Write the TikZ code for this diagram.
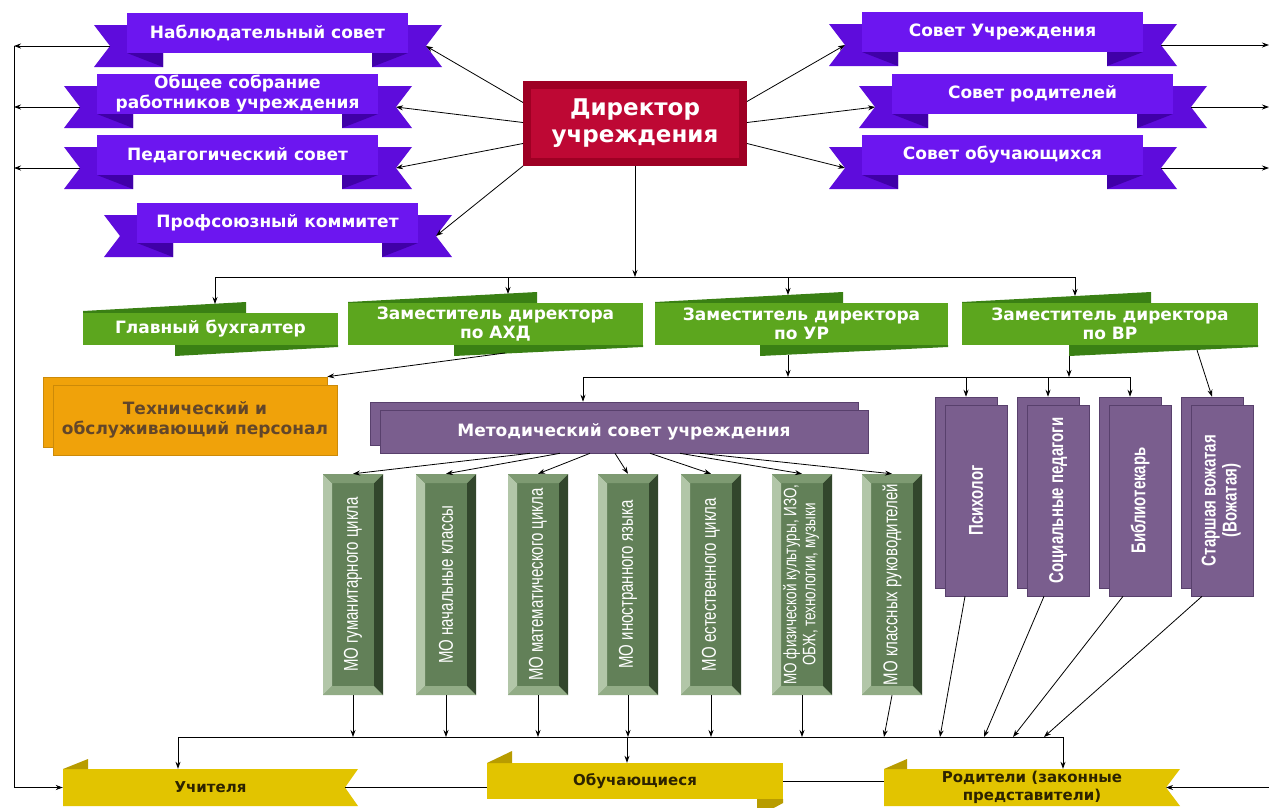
\documentclass[tikz,border=0pt]{standalone}
\usepackage{fontspec}
\usepackage{graphicx}
\setmainfont{DejaVu Sans}
\newfontfamily\narrowfont[FakeStretch=0.75]{Liberation Sans}
\usetikzlibrary{arrows.meta}

\definecolor{ribmain}{RGB}{108,22,240}
\definecolor{ribtail}{RGB}{94,12,220}
\definecolor{ribfold}{RGB}{64,0,168}
\definecolor{dirout}{RGB}{158,0,36}
\definecolor{dirin}{RGB}{190,8,52}
\definecolor{grmain}{RGB}{92,166,30}
\definecolor{grdark}{RGB}{58,128,20}
\definecolor{orfill}{RGB}{240,162,10}
\definecolor{ortext}{RGB}{98,70,42}
\definecolor{pufill}{RGB}{122,94,142}
\definecolor{pudraw}{RGB}{88,64,108}
\definecolor{moface}{RGB}{98,128,88}
\definecolor{molight}{RGB}{178,198,168}
\definecolor{modark}{RGB}{50,70,44}
\definecolor{motop}{RGB}{126,154,114}
\definecolor{mobot}{RGB}{146,172,134}
\definecolor{yefill}{RGB}{226,196,0}
\definecolor{yefold}{RGB}{184,156,0}
\definecolor{yetext}{RGB}{45,35,0}

\begin{document}
\begin{tikzpicture}[x=1pt, y=-1pt, >={Stealth[length=7pt,width=5pt]},
    wire/.style={black, line width=0.8pt},
    wirearrow/.style={wire, ->},
    ribbon/.style={fill=ribmain, text=white, font=\bfseries\fontsize{17}{20}\selectfont,
      minimum width=281, minimum height=40, inner sep=0, align=center},
    dirbox/.style={fill=dirin, draw=dirout, line width=8pt, minimum width=216, minimum height=77,
      text=white, font=\bfseries\fontsize{23}{27}\selectfont, align=center},
    gbox/.style={fill=grmain, text=white, font=\bfseries\fontsize{17}{19}\selectfont,
      minimum height=42, inner sep=0, align=center},
    orbox/.style={fill=orfill, draw=orfill!85!black, line width=0.6pt, minimum width=284,
      minimum height=70, inner sep=0, align=center},
    pubox/.style={fill=pufill, draw=pudraw, line width=0.6pt, inner sep=0, text=white, align=center},
    pucol/.style={pubox, minimum width=62, minimum height=191,
      font=\narrowfont\bfseries\fontsize{20}{21}\selectfont},
    yeband/.style={inner sep=0, text=yetext, font=\bfseries\fontsize{15}{18}\selectfont, align=center},
    mocol/.style={fill=moface, minimum width=60, minimum height=221, inner sep=0, text=white,
      font=\narrowfont\fontsize{20}{20}\selectfont,
      path picture={
        \fill[molight] (path picture bounding box.north west) -- (path picture bounding box.south west)
          -- ([xshift=9pt,yshift=9pt]path picture bounding box.south west)
          -- ([xshift=9pt,yshift=-9pt]path picture bounding box.north west) -- cycle;
        \fill[modark] (path picture bounding box.north east) -- (path picture bounding box.south east)
          -- ([xshift=-9pt,yshift=9pt]path picture bounding box.south east)
          -- ([xshift=-9pt,yshift=-9pt]path picture bounding box.north east) -- cycle;
        \fill[motop] (path picture bounding box.north west) -- (path picture bounding box.north east)
          -- ([xshift=-9pt,yshift=-9pt]path picture bounding box.north east)
          -- ([xshift=9pt,yshift=-9pt]path picture bounding box.north west) -- cycle;
        \fill[mobot] (path picture bounding box.south west) -- (path picture bounding box.south east)
          -- ([xshift=-9pt,yshift=9pt]path picture bounding box.south east)
          -- ([xshift=9pt,yshift=9pt]path picture bounding box.south west) -- cycle;
      }}]

    % Page frame
    \useasboundingbox (0,0) rectangle (1269,807);
    \fill[white] (0,0) rectangle (1269,807);
    \coordinate (lx) at (14,0);
    \coordinate (rx) at (1269,0);

    % Councils on the left (tails, folds, then the band)
    \fill[ribtail] (163,25) -- (94,25) -- (110,46) -- (94,67) -- (163,67) -- cycle
      (372,25) -- (442,25) -- (426,46) -- (442,67) -- (372,67) -- cycle;
    \fill[ribfold] (127,53) -- (163,53) -- (163,67) -- cycle (408,53) -- (372,53) -- (372,67) -- cycle;
    \node[ribbon] (nabl) at (267.5,33) {Наблюдательный совет};
    \coordinate (nabl-l) at (110,46);
    \coordinate (nabl-r) at (426,46);

    \fill[ribtail] (133,86) -- (64,86) -- (80,107) -- (64,128) -- (133,128) -- cycle
      (342,86) -- (412,86) -- (396,107) -- (412,128) -- (342,128) -- cycle;
    \fill[ribfold] (97,114) -- (133,114) -- (133,128) -- cycle (378,114) -- (342,114) -- (342,128) -- cycle;
    \node[ribbon] (obsh) at (237.5,94) {Общее собрание\\работников учреждения};
    \coordinate (obsh-l) at (80,107);
    \coordinate (obsh-r) at (396,107);

    \fill[ribtail] (133,147) -- (64,147) -- (80,168) -- (64,189) -- (133,189) -- cycle
      (342,147) -- (412,147) -- (396,168) -- (412,189) -- (342,189) -- cycle;
    \fill[ribfold] (97,175) -- (133,175) -- (133,189) -- cycle (378,175) -- (342,175) -- (342,189) -- cycle;
    \node[ribbon] (ped) at (237.5,155) {Педагогический совет};
    \coordinate (ped-l) at (80,168);
    \coordinate (ped-r) at (396,168);

    \fill[ribtail] (173,215) -- (104,215) -- (120,236) -- (104,257) -- (173,257) -- cycle
      (382,215) -- (452,215) -- (436,236) -- (452,257) -- (382,257) -- cycle;
    \fill[ribfold] (137,243) -- (173,243) -- (173,257) -- cycle (418,243) -- (382,243) -- (382,257) -- cycle;
    \node[ribbon] (prof) at (277.5,223) {Профсоюзный коммитет};
    \coordinate (prof-r) at (436,236);

    % Councils on the right
    \fill[ribtail] (898,24) -- (829,24) -- (845,45) -- (829,66) -- (898,66) -- cycle
      (1107,24) -- (1177,24) -- (1161,45) -- (1177,66) -- (1107,66) -- cycle;
    \fill[ribfold] (862,52) -- (898,52) -- (898,66) -- cycle (1143,52) -- (1107,52) -- (1107,66) -- cycle;
    \node[ribbon] (sovu) at (1002.5,32) {Совет Учреждения};
    \coordinate (sovu-l) at (845,45);
    \coordinate (sovu-r) at (1161,45);

    \fill[ribtail] (928,86) -- (859,86) -- (875,107) -- (859,128) -- (928,128) -- cycle
      (1137,86) -- (1207,86) -- (1191,107) -- (1207,128) -- (1137,128) -- cycle;
    \fill[ribfold] (892,114) -- (928,114) -- (928,128) -- cycle (1173,114) -- (1137,114) -- (1137,128) -- cycle;
    \node[ribbon] (sovr) at (1032.5,94) {Совет родителей};
    \coordinate (sovr-l) at (875,107);
    \coordinate (sovr-r) at (1191,107);

    \fill[ribtail] (898,147) -- (829,147) -- (845,168) -- (829,189) -- (898,189) -- cycle
      (1107,147) -- (1177,147) -- (1161,168) -- (1177,189) -- (1107,189) -- cycle;
    \fill[ribfold] (862,175) -- (898,175) -- (898,189) -- cycle (1143,175) -- (1107,175) -- (1107,189) -- cycle;
    \node[ribbon] (sovo) at (1002.5,155) {Совет обучающихся};
    \coordinate (sovo-l) at (845,168);
    \coordinate (sovo-r) at (1161,168);

    % Director
    \node[dirbox] (dir) at (635,123.5) {Директор\\учреждения};

    % Chief accountant and deputies (dark tabs behind)
    \fill[grdark] (83,313) -- (83,311) -- (246,302) -- (246,313) -- cycle
      (175,345) -- (175,356) -- (338,347) -- (338,345) -- cycle;
    \node[gbox, minimum width=255, minimum height=32] (glav) at (210.5,329) {Главный бухгалтер};
    \fill[grdark] (348,303) -- (348,302) -- (537,292) -- (537,303) -- cycle
      (454,345) -- (454,356) -- (643,347) -- (643,345) -- cycle;
    \node[gbox, minimum width=295] (ahd) at (495.5,324) {Заместитель директора\\по АХД};
    \fill[grdark] (655,303) -- (655,302) -- (843,292) -- (843,303) -- cycle
      (760,345) -- (760,356) -- (948,347) -- (948,345) -- cycle;
    \node[gbox, minimum width=293] (ur) at (801.5,324) {Заместитель директора\\по УР};
    \fill[grdark] (962,303) -- (962,302) -- (1151,292) -- (1151,303) -- cycle
      (1069,345) -- (1069,356) -- (1258,347) -- (1258,345) -- cycle;
    \node[gbox, minimum width=296] (vr) at (1110,324) {Заместитель директора\\по ВР};
    \coordinate (glav-t) at (215,304);
    \coordinate (ahd-t) at (508,294);
    \coordinate (ur-t) at (788,295);
    \coordinate (vr-t) at (1075,296);
    \coordinate (ahd-b) at (505,353);
    \coordinate (ur-b) at (788,355);
    \coordinate (vr-b) at (1069,356);
    \coordinate (vr-c) at (1197,350);

    % Technical staff
    \node[orbox] (tech-bk) at (185,412) {};
    \node[orbox, text=ortext, font=\bfseries\fontsize{17}{20}\selectfont] (tech) at (195,420)
      {Технический и\\обслуживающий персонал};

    % Methodical council
    \node[pubox, minimum width=488, minimum height=43] (met-bk) at (614,423.5) {};
    \node[pubox, minimum width=488, minimum height=43, font=\bfseries\fontsize{17}{20}\selectfont] (met)
      at (624,431.5) {Методический совет учреждения};

    % Specialists
    \node[pucol] (psy-bk) at (966,492.5) {};
    \node[pucol] (psy) at (976,500.5) {\rotatebox{90}{Психолог}};
    \node[pucol] (soc-bk) at (1048,492.5) {};
    \node[pucol] (soc) at (1058,500.5) {\rotatebox{90}{Социальные педагоги}};
    \node[pucol] (bib-bk) at (1130,492.5) {};
    \node[pucol] (bib) at (1140,500.5) {\rotatebox{90}{Библиотекарь}};
    \node[pucol] (star-bk) at (1212,492.5) {};
    \node[pucol] (star) at (1222,500.5)
      {\rotatebox{90}{\begin{tabular}{@{}c@{}}Старшая вожатая\\(Вожатая)\end{tabular}}};

    % Methodical unions
    \node[mocol] (mo1) at (353,584.5) {\rotatebox{90}{МО гуманитарного цикла}};
    \node[mocol] (mo2) at (446,584.5) {\rotatebox{90}{МО начальные классы}};
    \node[mocol] (mo3) at (538,584.5) {\rotatebox{90}{МО математического цикла}};
    \node[mocol] (mo4) at (628,584.5) {\rotatebox{90}{МО иностранного языка}};
    \node[mocol] (mo5) at (711,584.5) {\rotatebox{90}{МО естественного цикла}};
    \node[mocol, font=\narrowfont\fontsize{18}{19}\selectfont] (mo6) at (802,584.5)
      {\rotatebox{90}{\begin{tabular}{@{}c@{}}МО физической культуры, ИЗО,\\ОБЖ, технологии, музыки\end{tabular}}};
    \node[mocol] (mo7) at (892,584.5) {\rotatebox{90}{МО классных руководителей}};

    % Teachers, pupils, parents
    \fill[yefill] (63,769) -- (358,769) -- (345,787.5) -- (358,806) -- (63,806) -- cycle;
    \fill[yefold] (63,769) -- (88,759) -- (88,769) -- cycle;
    \node[yeband, minimum width=295, minimum height=37] (uch) at (210.5,787.5) {Учителя};
    \coordinate (uch-r) at (345,787.5);

    \fill[yefill] (487,763) -- (783,763) -- (783,799) -- (487,799) -- cycle;
    \fill[yefold] (487,763) -- (512,751) -- (512,763) -- cycle
      (757,799) -- (783,799) -- (783,803) -- (770,810) -- (757,810) -- cycle;
    \node[yeband, minimum width=296, minimum height=36] (obu) at (635,781) {Обучающиеся};

    \fill[yefill] (884,769) -- (1180,769) -- (1166,787.5) -- (1180,806) -- (884,806) -- cycle;
    \fill[yefold] (884,769) -- (907,759) -- (907,769) -- cycle;
    \node[yeband, minimum width=296, minimum height=37] (rod) at (1032,787.5)
      {Родители (законные\\представители)};
    \coordinate (rod-r) at (1166,787.5);

    % Director to councils
    \draw[wirearrow] ([yshift=21pt]dir.west) -- (nabl-r);
    \draw[wirearrow] ([yshift=1pt]dir.west) -- (obsh-r);
    \draw[wirearrow] ([yshift=-20pt]dir.west) -- (ped-r);
    \draw[wirearrow] (dir.south west) -- (prof-r);
    \draw[wirearrow] ([yshift=22pt]dir.east) -- (sovu-l);
    \draw[wirearrow] ([yshift=1pt]dir.east) -- (sovr-l);
    \draw[wirearrow] ([yshift=-20pt]dir.east) -- (sovo-l);

    % Side rails
    \draw[wirearrow] (nabl-l) -- (nabl-l -| lx);
    \draw[wirearrow] (obsh-l) -- (obsh-l -| lx);
    \draw[wirearrow] (ped-l) -- (ped-l -| lx);
    \draw[wirearrow] (nabl-l -| lx) |- (uch.west);
    \draw[wirearrow] (sovu-r) -- (sovu-r -| rx);
    \draw[wirearrow] (sovr-r) -- (sovr-r -| rx);
    \draw[wirearrow] (sovo-r) -- (sovo-r -| rx);
    \draw[wirearrow] (rod-r -| rx) -- (rod-r);

    % Director to deputies
    \coordinate (b1) at (635,277);
    \draw[wirearrow] (dir) -- (b1);
    \draw[wire] (glav-t |- b1) -- (vr-t |- b1);
    \draw[wirearrow] (glav-t |- b1) -- (glav-t);
    \draw[wirearrow] (ahd-t |- b1) -- (ahd-t);
    \draw[wirearrow] (ur-t |- b1) -- (ur-t);
    \draw[wirearrow] (vr-t |- b1) -- (vr-t);
    \draw[wirearrow] (ahd-b) -- (tech-bk.north east);

    % Deputies to council and specialists
    \coordinate (b2) at (583,377);
    \draw[wirearrow] (ur-b) -- (ur-b |- b2);
    \draw[wirearrow] (vr-b) -- (vr-b |- b2);
    \draw[wire] (b2) -- (bib-bk.north |- b2);
    \draw[wirearrow] (b2) -- (b2 |- met-bk.north);
    \draw[wirearrow] (psy-bk.north |- b2) -- (psy-bk.north);
    \draw[wirearrow] (soc-bk.north |- b2) -- (soc-bk.north);
    \draw[wirearrow] (bib-bk.north |- b2) -- (bib-bk.north);
    \draw[wirearrow] (vr-c) -- (star-bk.north);

    % Council to unions
    \draw[wirearrow] ([xshift=-94pt]met.south) -- (mo1.north);
    \draw[wirearrow] ([xshift=-64pt]met.south) -- (mo2.north);
    \draw[wirearrow] ([xshift=-34pt]met.south) -- (mo3.north);
    \draw[wirearrow] ([xshift=-9pt]met.south) -- (mo4.north);
    \draw[wirearrow] ([xshift=26pt]met.south) -- (mo5.north);
    \draw[wirearrow] ([xshift=56pt]met.south) -- (mo6.north);
    \draw[wirearrow] ([xshift=76pt]met.south) -- (mo7.north);

    % Lower bus
    \coordinate (b3) at (178,737);
    \coordinate (b3m) at (627,737);
    \coordinate (b3r) at (1063,737);
    \coordinate (k7) at (884,737);
    \coordinate (k8) at (940,737);
    \coordinate (k9) at (984,737);
    \coordinate (k10) at (1013,737);
    \coordinate (k11) at (1044,737);
    \draw[wire] (b3) -- (b3r);
    \draw[wirearrow] (mo1.south) -- (mo1.south |- b3);
    \draw[wirearrow] (mo2.south) -- (mo2.south |- b3);
    \draw[wirearrow] (mo3.south) -- (mo3.south |- b3);
    \draw[wirearrow] (mo4.south) -- (mo4.south |- b3);
    \draw[wirearrow] (mo5.south) -- (mo5.south |- b3);
    \draw[wirearrow] (mo6.south) -- (mo6.south |- b3);
    \draw[wirearrow] (mo7.south) -- (k7);
    \draw[wirearrow] ([xshift=-11pt]psy.south) -- (k8);
    \draw[wirearrow] ([xshift=-14pt]soc.south) -- (k9);
    \draw[wirearrow] ([xshift=-17pt]bib.south) -- (k10);
    \draw[wirearrow] ([xshift=-20pt]star.south) -- (k11);
    \draw[wirearrow] (b3) -- (b3 |- uch.north);
    \draw[wirearrow] (b3m) -- (b3m |- obu.north);
    \draw[wirearrow] (b3r) -- (b3r |- rod.north);

    % Links between the bottom bands
    \draw[wire] (uch-r) -- (uch-r -| obu.west);
    \draw[wire] (obu.east) -- (obu.east -| rod.west);
\end{tikzpicture}
\end{document}
